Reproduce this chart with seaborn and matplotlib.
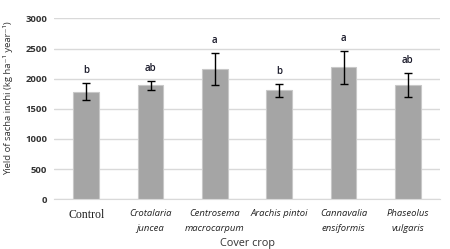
import numpy as np
import pandas as pd
import matplotlib
matplotlib.use("Agg")
import matplotlib.pyplot as plt
import seaborn as sns

# Data
crops = ["Control", "Crotalaria\njuncea", "Centrosema\nmacrocarpum",
         "Arachis pintoi", "Cannavalia\nensiformis", "Phaseolus\nvulgaris"]
yield_mean = [1783, 1889, 2155, 1812, 2188, 1900]
yield_err = [138, 75, 265, 108, 273, 200]
letters = ["b", "ab", "a", "b", "a", "ab"]
y_ticks = [0, 500, 1000, 1500, 2000, 2500, 3000]

df = pd.DataFrame({"crop": crops, "yield": yield_mean})

sns.set_style("white")
plt.rcParams["font.family"] = ["Open Sans", "DejaVu Sans"]

fig, ax = plt.subplots(figsize=(4.5, 2.49), dpi=100)
fig.subplots_adjust(left=0.12, right=0.978, bottom=0.2, top=0.926)

sns.barplot(data=df, x="crop", y="yield", color="#A5A5A5", width=0.4,
            saturation=1, edgecolor="#C8C8C8", linewidth=0.8, ax=ax, zorder=2)
ax.errorbar(range(len(crops)), yield_mean, yerr=yield_err, fmt="none",
            ecolor="black", elinewidth=1, capsize=3, capthick=1, zorder=3)

for i, (m, e, lab) in enumerate(zip(yield_mean, yield_err, letters)):
    ax.annotate(lab, (i, m + e), xytext=(0, 5), textcoords="offset points",
                ha="center", va="bottom", fontsize=7, fontweight="semibold",
                color="#1a1a2a")

ax.set_ylim(0, 3000)
ax.set_yticks(y_ticks)
ax.set_yticklabels([str(t) for t in y_ticks], fontsize=6.8, fontweight="bold",
                   color="#333333")
ax.set_xlim(-0.5, len(crops) - 0.5)
ax.yaxis.grid(True, color="#D9D9D9", linewidth=1)
ax.set_axisbelow(True)
for s in ["left", "right", "top"]:
    ax.spines[s].set_visible(False)
ax.spines["bottom"].set_color("#D9D9D9")
ax.tick_params(axis="y", length=0, pad=5)
ax.tick_params(axis="x", length=0, pad=7)

ax.set_xticks(range(len(crops)))
ax.set_xticklabels(crops, fontsize=6.8, style="italic", color="#222222",
                   linespacing=1.8)
ax.get_xticklabels()[0].set_fontstyle("normal")
ax.get_xticklabels()[0].set_family(["Liberation Serif", "DejaVu Serif"])
ax.get_xticklabels()[0].set_fontsize(8.5)

ax.set_xlabel("Cover crop", fontsize=7.8, color="#333333", labelpad=4)
ax.set_ylabel("Yield of sacha inchi (kg ha\u207b\u00b9 year\u207b\u00b9)",
              fontsize=6.8, color="#333333")
ax.yaxis.set_label_coords(-0.105, 0.56)

fig.savefig("out.png", dpi=100)
